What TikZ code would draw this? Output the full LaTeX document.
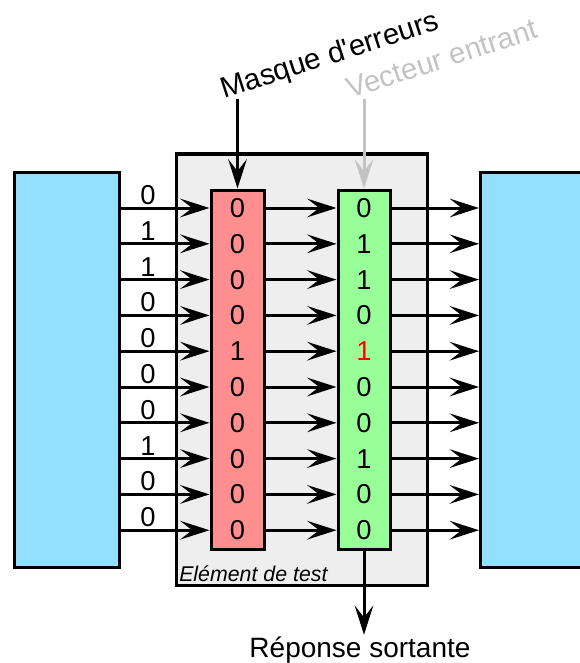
\documentclass[tikz,border=0pt]{standalone}
\usepackage{fontspec}
\setmainfont{Liberation Sans}
\usetikzlibrary{arrows.meta,positioning,calc}
\usepackage{xcolor}
\definecolor{boxblue}{RGB}{148,222,254}
\definecolor{maskred}{RGB}{255,143,143}
\definecolor{vecgreen}{RGB}{152,255,152}
\definecolor{testgrey}{RGB}{238,238,238}
\definecolor{labelgrey}{RGB}{195,195,195}

\begin{document}
\begin{tikzpicture}[
    x=0.75pt, y=-0.75pt,
    blk/.style={rectangle, draw, line width=2.25pt, inner sep=0pt},
    bit/.style={inner sep=0pt, font=\fontsize{20.5}{24}\selectfont},
    inbit/.style={above, inner sep=1.5pt, font=\fontsize{20.5}{24}\selectfont},
    lbl/.style={rotate=18, anchor=base west, inner sep=0pt, font=\fontsize{22}{26}\selectfont},
    arr/.style={-{Stealth[length=22pt, width=14pt, inset=9pt]}, line width=2.25pt}
]
\useasboundingbox (0,0) rectangle (579,663);

% Element de test
\node (test) [blk, fill=testgrey, minimum width=188.25pt, minimum height=323.25pt] at (301.5,369.5) {};
\node (testlbl) [anchor=base west, inner sep=0pt, font=\fontsize{16}{19}\selectfont\itshape] at (179,581) {Elément de test};

% Blocs amont / aval
\node (src) [blk, fill=boxblue, minimum width=78.75pt, minimum height=296.25pt] at (66.5,369.5) {};
\node (dst) [blk, fill=boxblue, minimum width=104.25pt, minimum height=296.25pt] at (550,369.5) {};

% Colonnes
\node (mask) [blk, fill=maskred, minimum width=39.75pt, minimum height=269.25pt] at (237.5,369.5) {};
\node (vec) [blk, fill=vecgreen, minimum width=39pt, minimum height=269.25pt] at (364,369.5) {};

% Bits
\foreach \i/\a/\m/\v/\c in {1/0/0/0/black, 2/1/0/1/black, 3/1/0/1/black, 4/0/0/0/black, 5/0/1/1/red,
                           6/0/0/0/black, 7/0/0/0/black, 8/1/0/1/black, 9/0/0/0/black, 10/0/0/0/black} {
    \pgfmathsetmacro{\y}{208+35.8*(\i-1)}
    \node (m\i) [bit] at (mask.center |- 0,\y) {\m};
    \node (v\i) [bit, text=\c] at (vec.center |- 0,\y) {\v};
    \draw[arr] (src.east |- m\i) -- node[inbit, pos=0.31] (in\i) {\a} (mask.west |- m\i);
    \draw[arr] (mask.east |- m\i) -- (vec.west |- v\i);
    \draw[arr] (vec.east |- v\i) -- (dst.west |- v\i);
}

% Entrees / sortie
\node (masklbl) [lbl] at (224,99) {Masque d\textquotesingle erreurs};
\node (veclbl) [lbl, text=labelgrey] at (350,99) {Vecteur entrant};
\node (outlbl) [anchor=base, inner sep=1pt, font=\fontsize{21}{25}\selectfont] at (360,657) {Réponse sortante};

\draw[arr] (mask.north |- masklbl.base west) -- (mask.north);
\draw[arr, labelgrey] (vec.north |- veclbl.base west) -- (vec.north);
\draw[arr] (vec.south) -- (vec.south |- outlbl.north);

\end{tikzpicture}
\end{document}
